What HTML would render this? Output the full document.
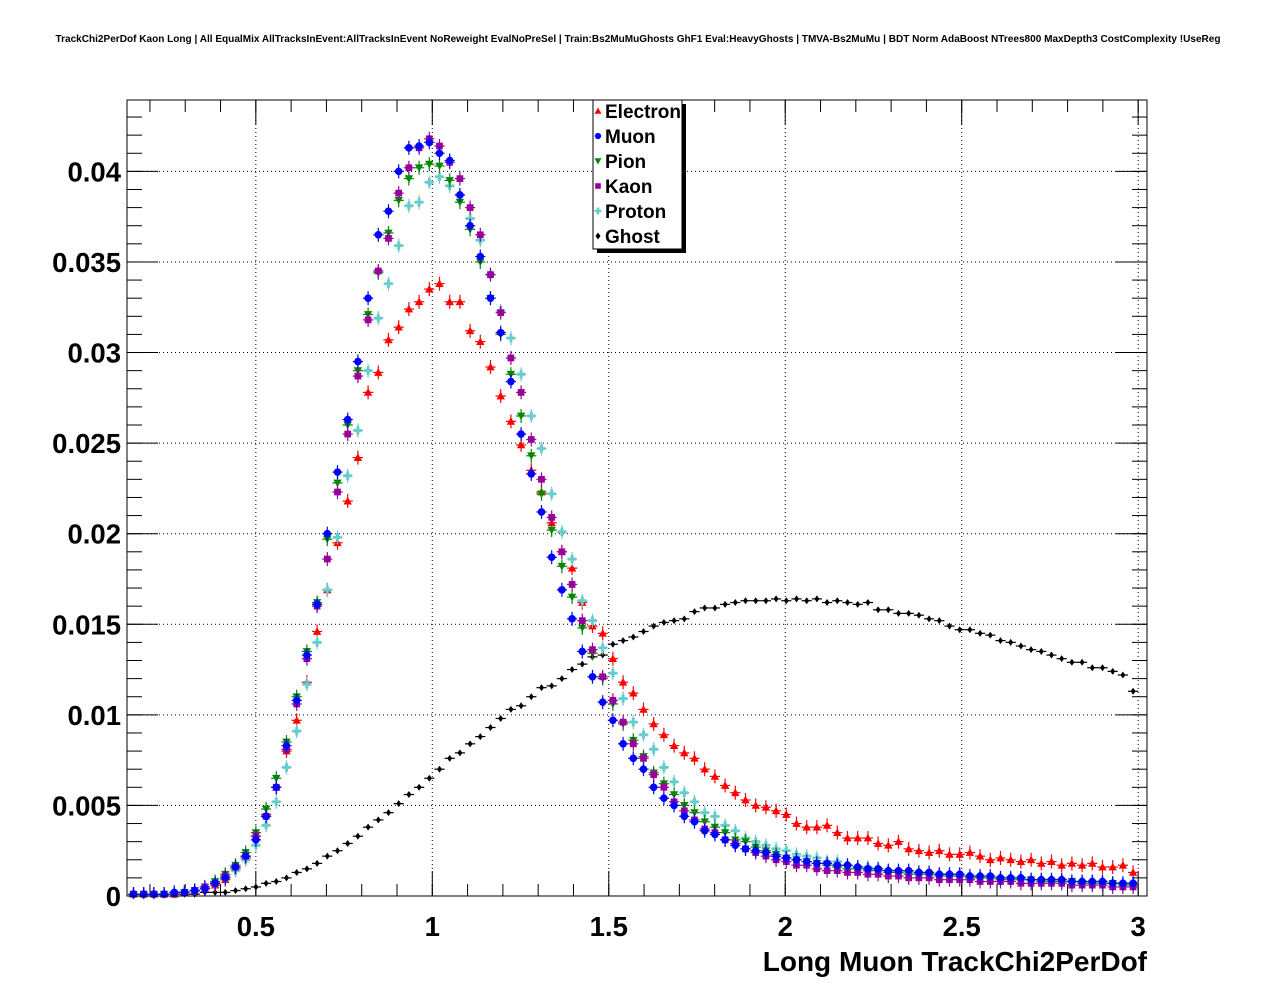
<!DOCTYPE html>
<html><head><meta charset="utf-8"><style>
html,body{margin:0;padding:0;background:#fff;}
svg text{font-family:"Liberation Sans",sans-serif;font-weight:bold;}
</style></head><body>
<svg id="chart" width="1276" height="996" viewBox="0 0 1276 996" xmlns="http://www.w3.org/2000/svg">
<rect width="1276" height="996" fill="#fff"/>
<text x="638" y="42" font-size="10.05" text-anchor="middle">TrackChi2PerDof Kaon Long | All EqualMix AllTracksInEvent:AllTracksInEvent NoReweight EvalNoPreSel | Train:Bs2MuMuGhosts GhF1 Eval:HeavyGhosts | TMVA-Bs2MuMu | BDT Norm AdaBoost NTrees800 MaxDepth3 CostComplexity !UseReg</text>
<g id="grid"></g>
<g id="axes"></g>
<g id="marks"></g>
<rect x="127" y="100" width="1020" height="796" fill="none" stroke="#000" stroke-width="1"/>
<text x="1147" y="971" font-size="28" text-anchor="end">Long Muon TrackChi2PerDof</text>
<g>
<rect x="597" y="104" width="89" height="149" fill="#000"/>
<rect x="593" y="100" width="89" height="149" fill="#fff" stroke="#000" stroke-width="1"/>
<g id="legend-entries"></g>
</g>
</svg>
<script>
const binStart = 0.1534;
const binWidth = 0.0289;
const xTicks = [0.5, 1, 1.5, 2, 2.5, 3];
const xTickLabels = ["0.5", "1", "1.5", "2", "2.5", "3"];
const yTicks = [0, 0.005, 0.01, 0.015, 0.02, 0.025, 0.03, 0.035, 0.04];
const yTickLabels = ["0", "0.005", "0.01", "0.015", "0.02", "0.025", "0.03", "0.035", "0.04"];
const seriesNames = ["Electron", "Muon", "Pion", "Kaon", "Proton", "Ghost"];

const electron = [.0001,.0001,.0001,.0001,.0001,.0002,.0003,.0004,.0006,.0009,.0015,.0021,.0033,.0045,.0060,.0080,.0097,.0118,.0146,.0169,
.0195,.0218,.0242,.0278,.0289,.0307,.0314,.0324,.0328,.0335,.0338,.0328,.0328,.0312,.0306,.0292,.0276,.0262,.0249,.0235,
.0223,.0206,.0190,.0181,.0162,.0149,.0145,.0131,.0118,.0112,.0103,.0095,.0089,.0083,.0079,.0076,.0070,.0066,.0061,.0057,
.0053,.0050,.0049,.0047,.0045,.0040,.0038,.0038,.0039,.0035,.0032,.0032,.0032,.0029,.0028,.0030,.0026,.0025,.0024,.0025,
.0023,.0023,.0024,.0022,.0020,.0021,.0020,.0019,.0020,.0018,.0019,.0017,.0018,.0017,.0018,.0016,.0016,.0017,.0013];
const muon = [.0001,.0001,.0001,.0001,.0002,.0002,.0003,.0004,.0007,.0010,.0016,.0022,.0031,.0044,.0060,.0083,.0108,.0133,.0161,.0200,
.0234,.0263,.0295,.0330,.0365,.0378,.0400,.0413,.0414,.0416,.0410,.0406,.0387,.0370,.0353,.0330,.0311,.0284,.0255,.0233,
.0212,.0187,.0169,.0153,.0135,.0121,.0107,.0097,.0084,.0076,.0070,.0060,.0054,.0050,.0044,.0041,.0036,.0034,.0031,.0028,
.0026,.0025,.0024,.0022,.0021,.0020,.0019,.0018,.0018,.0017,.0017,.0016,.0015,.0015,.0014,.0014,.0014,.0013,.0013,.0012,
.0012,.0012,.0011,.0011,.0011,.0010,.0010,.0010,.0009,.0009,.0009,.0009,.0008,.0008,.0008,.0008,.0007,.0007,.0007];
const pion = [.0001,.0001,.0001,.0001,.0001,.0002,.0003,.0005,.0008,.0012,.0017,.0024,.0035,.0048,.0065,.0085,.0110,.0135,.0162,.0197,
.0228,.0260,.0290,.0321,.0344,.0366,.0384,.0396,.0402,.0404,.0403,.0395,.0383,.0368,.0350,.0330,.0310,.0288,.0265,.0243,
.0222,.0202,.0182,.0165,.0148,.0134,.0120,.0106,.0095,.0086,.0077,.0068,.0062,.0056,.0050,.0046,.0041,.0038,.0035,.0031,
.0030,.0027,.0025,.0023,.0021,.0020,.0019,.0018,.0017,.0016,.0015,.0015,.0014,.0014,.0013,.0013,.0012,.0012,.0012,.0011,
.0011,.0011,.0010,.0010,.0010,.0009,.0009,.0009,.0009,.0008,.0008,.0008,.0008,.0007,.0007,.0007,.0007,.0006,.0006];
const kaon = [.0001,.0001,.0001,.0001,.0001,.0002,.0003,.0005,.0007,.0011,.0016,.0022,.0033,.0044,.0060,.0081,.0106,.0131,.0160,.0186,
.0223,.0255,.0287,.0318,.0345,.0363,.0388,.0402,.0413,.0418,.0414,.0405,.0396,.0380,.0365,.0343,.0322,.0297,.0278,.0252,
.0230,.0209,.0190,.0172,.0152,.0136,.0121,.0108,.0096,.0084,.0076,.0067,.0060,.0052,.0047,.0042,.0037,.0035,.0031,.0029,
.0026,.0024,.0022,.0020,.0019,.0017,.0017,.0015,.0014,.0014,.0013,.0013,.0012,.0012,.0011,.0011,.0010,.0010,.0010,.0009,
.0009,.0009,.0009,.0008,.0008,.0008,.0008,.0007,.0007,.0007,.0007,.0007,.0006,.0006,.0006,.0006,.0005,.0005,.0005];
const proton = [.0001,.0001,.0001,.0001,.0001,.0002,.0003,.0005,.0007,.0010,.0014,.0020,.0028,.0039,.0052,.0071,.0091,.0117,.0140,.0169,
.0198,.0232,.0257,.0290,.0319,.0338,.0359,.0381,.0383,.0394,.0397,.0392,.0387,.0374,.0362,.0343,.0323,.0308,.0288,.0265,
.0247,.0222,.0201,.0186,.0163,.0152,.0137,.0123,.0109,.0096,.0089,.0081,.0071,.0063,.0057,.0052,.0046,.0044,.0039,.0036,
.0032,.0030,.0028,.0026,.0025,.0023,.0022,.0021,.0019,.0019,.0017,.0016,.0016,.0015,.0014,.0013,.0013,.0013,.0012,.0012,
.0012,.0011,.0011,.0011,.0010,.0010,.0010,.0010,.0009,.0009,.0009,.0009,.0008,.0008,.0008,.0008,.0007,.0007,.0007];
const ghost = [.0000,.0000,.0000,.0001,.0001,.0001,.0001,.0002,.0002,.0002,.0003,.0004,.0005,.0007,.0008,.0010,.0013,.0015,.0018,.0022,
.0025,.0029,.0033,.0038,.0042,.0046,.0051,.0056,.0060,.0065,.0070,.0076,.0079,.0084,.0088,.0093,.0098,.0103,.0105,.0110,
.0115,.0116,.0120,.0125,.0128,.0132,.0133,.0139,.0141,.0143,.0146,.0149,.0151,.0152,.0153,.0157,.0159,.0159,.0161,.0162,
.0163,.0163,.0163,.0164,.0163,.0164,.0163,.0164,.0162,.0163,.0162,.0161,.0162,.0158,.0158,.0156,.0156,.0155,.0153,.0152,
.0149,.0147,.0147,.0145,.0144,.0141,.0140,.0138,.0136,.0135,.0133,.0131,.0129,.0129,.0126,.0126,.0124,.0122,.0113];

const X0 = 127, X1 = 1147, Y0 = 896, Y1 = 100;
const xMin = 0.135, xMax = 3.025, yMin = 0, yMax = 0.04394;
function xs(v){ return X0 + (v - xMin) / (xMax - xMin) * (X1 - X0); }
function ys(v){ return Y0 - (v - yMin) / (yMax - yMin) * (Y0 - Y1); }
const NS = "http://www.w3.org/2000/svg";
function mk(tag, attrs, parent){ const e = document.createElementNS(NS, tag); for (const k in attrs) e.setAttribute(k, attrs[k]); parent.appendChild(e); return e; }

const grid = document.getElementById('grid');
const axes = document.getElementById('axes');
xTicks.forEach((t, i) => {
  const x = xs(t);
  const g = mk('line', {x1:x, x2:x, y1:Y1, y2:Y0, stroke:'#000', 'stroke-width':1, 'stroke-dasharray':'1,3'}, grid);
  
  
  const tk = mk('line', {x1:x, x2:x, y1:Y0, y2:Y0-25, stroke:'#000', 'stroke-width':1}, axes);
  
  
  const tk2 = mk('line', {x1:x, x2:x, y1:Y1, y2:Y1+25, stroke:'#000', 'stroke-width':1}, axes);
  
  
  const lb = mk('text', {x:x, y:936, 'font-size':27.5, 'text-anchor':'middle'}, axes);
  lb.textContent = xTickLabels[i];
  
  
});
for (let m = 0.2; m < 3.02; m += 0.1) {
  const x = xs(m);
  if (x < X0 || x > X1) continue;
  const a = mk('line', {x1:x, x2:x, y1:Y0, y2:Y0-12, stroke:'#000', 'stroke-width':1}, axes);
  
  
  const b = mk('line', {x1:x, x2:x, y1:Y1, y2:Y1+12, stroke:'#000', 'stroke-width':1}, axes);
  
  
}
yTicks.forEach((t, i) => {
  const y = ys(t);
  if (i > 0) {
    const g = mk('line', {x1:X0, x2:X1, y1:y, y2:y, stroke:'#000', 'stroke-width':1, 'stroke-dasharray':'1,3'}, grid);
    
    
  }
  const a = mk('line', {x1:X0, x2:X0+31, y1:y, y2:y, stroke:'#000', 'stroke-width':1}, axes);
  
  
  const b = mk('line', {x1:X1, x2:X1-31, y1:y, y2:y, stroke:'#000', 'stroke-width':1}, axes);
  
  
  const lb = mk('text', {x:121, y:y+10, 'font-size':27.5, 'text-anchor':'end'}, axes);
  lb.textContent = yTickLabels[i];
  
  
});
for (let m = 0.001; m < 0.0439; m += 0.001) {
  const y = ys(m);
  const a = mk('line', {x1:X0, x2:X0+15, y1:y, y2:y, stroke:'#000', 'stroke-width':1}, axes);
  
  
  const b = mk('line', {x1:X1, x2:X1-15, y1:y, y2:y, stroke:'#000', 'stroke-width':1}, axes);
  
  
}

const colors = ['#ff0000', '#0000ff', '#008800', '#990099', '#66cccc', '#000000'];
const shapes = ['tri-up', 'circle', 'tri-down', 'square', 'cross', 'small'];
const data = [electron, muon, pion, kaon, proton, ghost];

function marker(parent, shape, cx, cy, col, s) {
  let e;
  if (shape === 'tri-up') e = mk('polygon', {points:`${cx-s},${cy+s*0.8} ${cx+s},${cy+s*0.8} ${cx},${cy-s}`, fill:col}, parent);
  else if (shape === 'tri-down') e = mk('polygon', {points:`${cx-s},${cy-s*0.8} ${cx+s},${cy-s*0.8} ${cx},${cy+s}`, fill:col}, parent);
  else if (shape === 'circle') e = mk('circle', {cx:cx, cy:cy, r:s*0.9, fill:col}, parent);
  else if (shape === 'square') e = mk('rect', {x:cx-s*0.8, y:cy-s*0.8, width:s*1.6, height:s*1.6, fill:col}, parent);
  else if (shape === 'cross') e = mk('path', {d:`M${cx-s} ${cy-s*0.35}h${s*0.65}v${-s*0.65}h${s*0.7}v${s*0.65}h${s*0.65}v${s*0.7}h${-s*0.65}v${s*0.65}h${-s*0.7}v${-s*0.65}h${-s*0.65}z`, fill:col}, parent);
  else e = mk('polygon', {points:`${cx-s*0.5},${cy} ${cx},${cy-s*0.7} ${cx+s*0.5},${cy} ${cx},${cy+s*0.7}`, fill:col}, parent);
  return e;
}

const marks = document.getElementById('marks');
[5, 0, 4, 2, 3, 1].forEach(si => {
  const g = mk('g', {}, marks);
  
  
  const col = colors[si];
  const s = si === 5 ? 5 : 4.2;
  data[si].forEach((v, k) => {
    const c = binStart + binWidth * k;
    const cx = xs(c), cy = ys(v);
    const xl = xs(c - binWidth / 2), xr = xs(c + binWidth / 2);
    const h = mk('line', {x1:xl, x2:xr, y1:cy, y2:cy, stroke:col, 'stroke-width':1.2}, g);
    
    
    if (si !== 5) {
      const vl = mk('line', {x1:cx, x2:cx, y1:cy-7, y2:Math.min(cy+7, Y0), stroke:col, 'stroke-width':1.2}, g);
      
      
    }
    const m = marker(g, shapes[si], cx, cy, col, s);
    
    
  });
});

const le = document.getElementById('legend-entries');
seriesNames.forEach((n, i) => {
  const y = 111 + i * 25;
  const g = mk('g', {}, le);
  
  
  marker(g, shapes[i], 598, y, colors[i], i === 5 ? 5 : 3.5);
  const t = mk('text', {x:605, y:y+7, 'font-size':19}, g);
  t.textContent = n;
  
  
});
</script>
</body></html>
